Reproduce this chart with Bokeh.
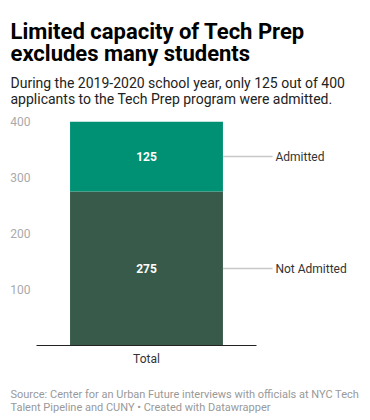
from bokeh.plotting import figure
from bokeh.models import Range1d, FixedTicker, Label, ColumnDataSource
from bokeh.layouts import column
from bokeh.core.properties import value
from bokeh.embed import file_html
from bokeh.resources import INLINE

# ---- data ----
categories = ["Total"]
series = ["Not Admitted", "Admitted"]
not_admitted = [275]
admitted = [125]
y_ticks = [100, 200, 300, 400]
colors = ["#375a4a", "#009175"]

title_lines = ["Limited capacity of Tech Prep", "excludes many students"]
subtitle_lines = ["During the 2019-2020 school year, only 125 out of 400",
                  "applicants to the Tech Prep program were admitted."]
footer_lines = ["Source: Center for an Urban Future interviews with officials at NYC Tech",
                "Talent Pipeline and CUNY \u2022 Created with Datawrapper"]

FONT = "Roboto"
W = 362
HEAD_H, CHART_H, FOOT_H = 108, 264, 46
LEFT, TOP, BOTTOM = 36, 13, 27
PX_PER_UNIT = 220.0
bar_w = 0.695


def text_panel(h):
    f = figure(width=W, height=h, output_backend="svg", toolbar_location=None,
               x_axis_type=None, y_axis_type=None,
               x_range=Range1d(0, W), y_range=Range1d(0, h),
               min_border=0, min_border_left=0, min_border_right=0,
               min_border_top=0, min_border_bottom=0)
    f.frame_align = False
    f.outline_line_color = None
    f.grid.visible = False
    return f


def add_text(f, h, txt, px, py, size, color, style="normal"):
    f.add_layout(Label(x=px, y=h - py, x_units="screen", y_units="screen",
                       text=txt, text_font=FONT, text_font_size=size, text_color=color,
                       text_font_style=style, text_baseline="alphabetic"))


# ---- header ----
head = text_panel(HEAD_H)
for i, t in enumerate(title_lines):
    add_text(head, HEAD_H, t, 10, 31 + 22 * i, "22px", "#000000", "bold")
for i, t in enumerate(subtitle_lines):
    add_text(head, HEAD_H, t, 10, 82 + 16 * i, "14px", "#222222")

# ---- chart ----
xs = list(range(len(categories)))
src = ColumnDataSource(dict(x=xs, **{"Not Admitted": not_admitted, "Admitted": admitted}))

p = figure(width=W, height=CHART_H, output_backend="svg", toolbar_location=None,
           x_range=Range1d(-0.5, -0.5 + (W - LEFT) / PX_PER_UNIT), y_range=Range1d(0, 400),
           min_border_left=LEFT, min_border_right=0, min_border_top=TOP, min_border_bottom=BOTTOM)
p.frame_align = False
p.outline_line_color = None
p.grid.visible = False

p.vbar_stack(series, x="x", width=bar_w, color=colors, source=src, line_color=None)

bottoms = [0] * len(categories)
for s, vals in zip(series, [not_admitted, admitted]):
    mids = [b + v / 2 for b, v in zip(bottoms, vals)]
    p.text(x=xs, y=mids, text=[str(v) for v in vals], text_color="white",
           text_font=value(FONT), text_font_style="bold", text_font_size="12px",
           text_align="center", text_baseline="middle")
    p.segment(x0=[x + bar_w / 2 for x in xs], y0=mids, x1=[x + 0.573 for x in xs], y1=mids,
              line_color="#c8c8c8", line_width=1.5)
    p.text(x=[x + 0.586 for x in xs], y=mids, text=[s] * len(xs), text_color="#333333",
           text_font=value(FONT), text_font_size="12px", text_baseline="middle")
    bottoms = [b + v for b, v in zip(bottoms, vals)]

xa = p.xaxis[0]
xa.ticker = FixedTicker(ticks=xs)
xa.major_label_overrides = {x: c for x, c in zip(xs, categories)}
xa.bounds = (-0.5, 0.5)
xa.axis_line_color = "#222222"
xa.axis_line_width = 1
xa.major_tick_line_color = None
xa.minor_tick_line_color = None
xa.major_tick_out = 0
xa.minor_tick_out = 0
xa.major_label_text_font = FONT
xa.major_label_text_font_size = "12px"
xa.major_label_text_color = "#333333"
xa.major_label_standoff = 6

ya = p.yaxis[0]
ya.ticker = FixedTicker(ticks=y_ticks)
ya.axis_line_color = None
ya.major_tick_line_color = None
ya.minor_tick_line_color = None
ya.major_tick_out = 0
ya.minor_tick_out = 0
ya.major_label_text_font = FONT
ya.major_label_text_font_size = "12px"
ya.major_label_text_color = "#aaaaaa"
ya.major_label_standoff = 6

# ---- footer ----
foot = text_panel(FOOT_H)
for i, t in enumerate(footer_lines):
    add_text(foot, FOOT_H, t, 10, 22 + 13 * i, "11px", "#999999")

layout = column(head, p, foot, spacing=0)
open("out.html", "w").write(file_html(layout, INLINE))
